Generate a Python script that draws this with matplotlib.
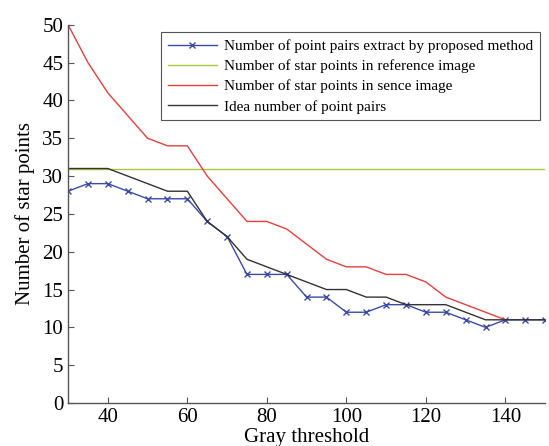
import numpy as np
import matplotlib.pyplot as plt

# gray threshold values
thresholds = [30, 35, 40, 45, 50, 55, 60, 65, 70, 75, 80, 85, 90, 95, 100,
              105, 110, 115, 120, 125, 130, 135, 140, 145, 150]

extracted_pairs = [28, 29, 29, 28, 27, 27, 27, 24, 22, 17, 17, 17, 14, 14, 12,
                   12, 13, 13, 12, 12, 11, 10, 11, 11, 11]
ideal_pairs = [31, 31, 31, 30, 29, 28, 28, 24, 22, 19, 18, 17, 16, 15, 15,
               14, 14, 13, 13, 13, 12, 11, 11, 11, 11]
reference_points = [31] * len(thresholds)

scene_thresholds = thresholds[:23]
scene_points = [50, 45, 41, 38, 35, 34, 34, 30, 27, 24, 24, 23, 21, 19, 18,
                18, 17, 17, 16, 14, 13, 12, 11]

labels = ["Number of point pairs extract by proposed method",
          "Number of star points in reference image",
          "Number of star points in sence image",
          "Idea number of point pairs"]

plt.rcParams['font.family'] = ['Liberation Serif', 'DejaVu Serif']

fig = plt.figure(figsize=(5.49, 4.46), dpi=100)
ax = fig.add_axes([0.124, 0.0964, 0.869, 0.848])

ax.plot(thresholds, extracted_pairs, color='#3c4aa6', lw=1.0, marker='x',
        markersize=4, markeredgewidth=1.0, label=labels[0])
ax.plot(thresholds, reference_points, color='#a6c83c', lw=1.0, label=labels[1])
ax.plot(scene_thresholds, scene_points, color='#e3403f', lw=1.0, label=labels[2])
ax.plot(thresholds, ideal_pairs, color='#333333', lw=1.0, label=labels[3])

ax.set_xlim(30, 150)
ax.set_ylim(0, 50)
ax.set_xticks(np.arange(40, 141, 20))
ax.set_yticks(np.arange(0, 51, 5))
ax.tick_params(direction='in', labelsize=15, color='#555555', length=4, width=0.8)

ax.spines['top'].set_visible(False)
ax.spines['right'].set_visible(False)
for s in ('left', 'bottom'):
    ax.spines[s].set_color('#555555')
    ax.spines[s].set_linewidth(1.0)

ax.set_xlabel("Gray threshold", fontsize=15, labelpad=1)
ax.set_ylabel("Number of star points", fontsize=15, labelpad=5)

leg = ax.legend(loc='upper right', bbox_to_anchor=(0.99, 0.98), fontsize=11,
                fancybox=False, edgecolor='#555555', framealpha=1,
                handlelength=3.2, handletextpad=0.5, labelspacing=0.42,
                borderpad=0.45, borderaxespad=0)
leg.get_frame().set_linewidth(0.8)

fig.savefig("out.png", dpi=100)
